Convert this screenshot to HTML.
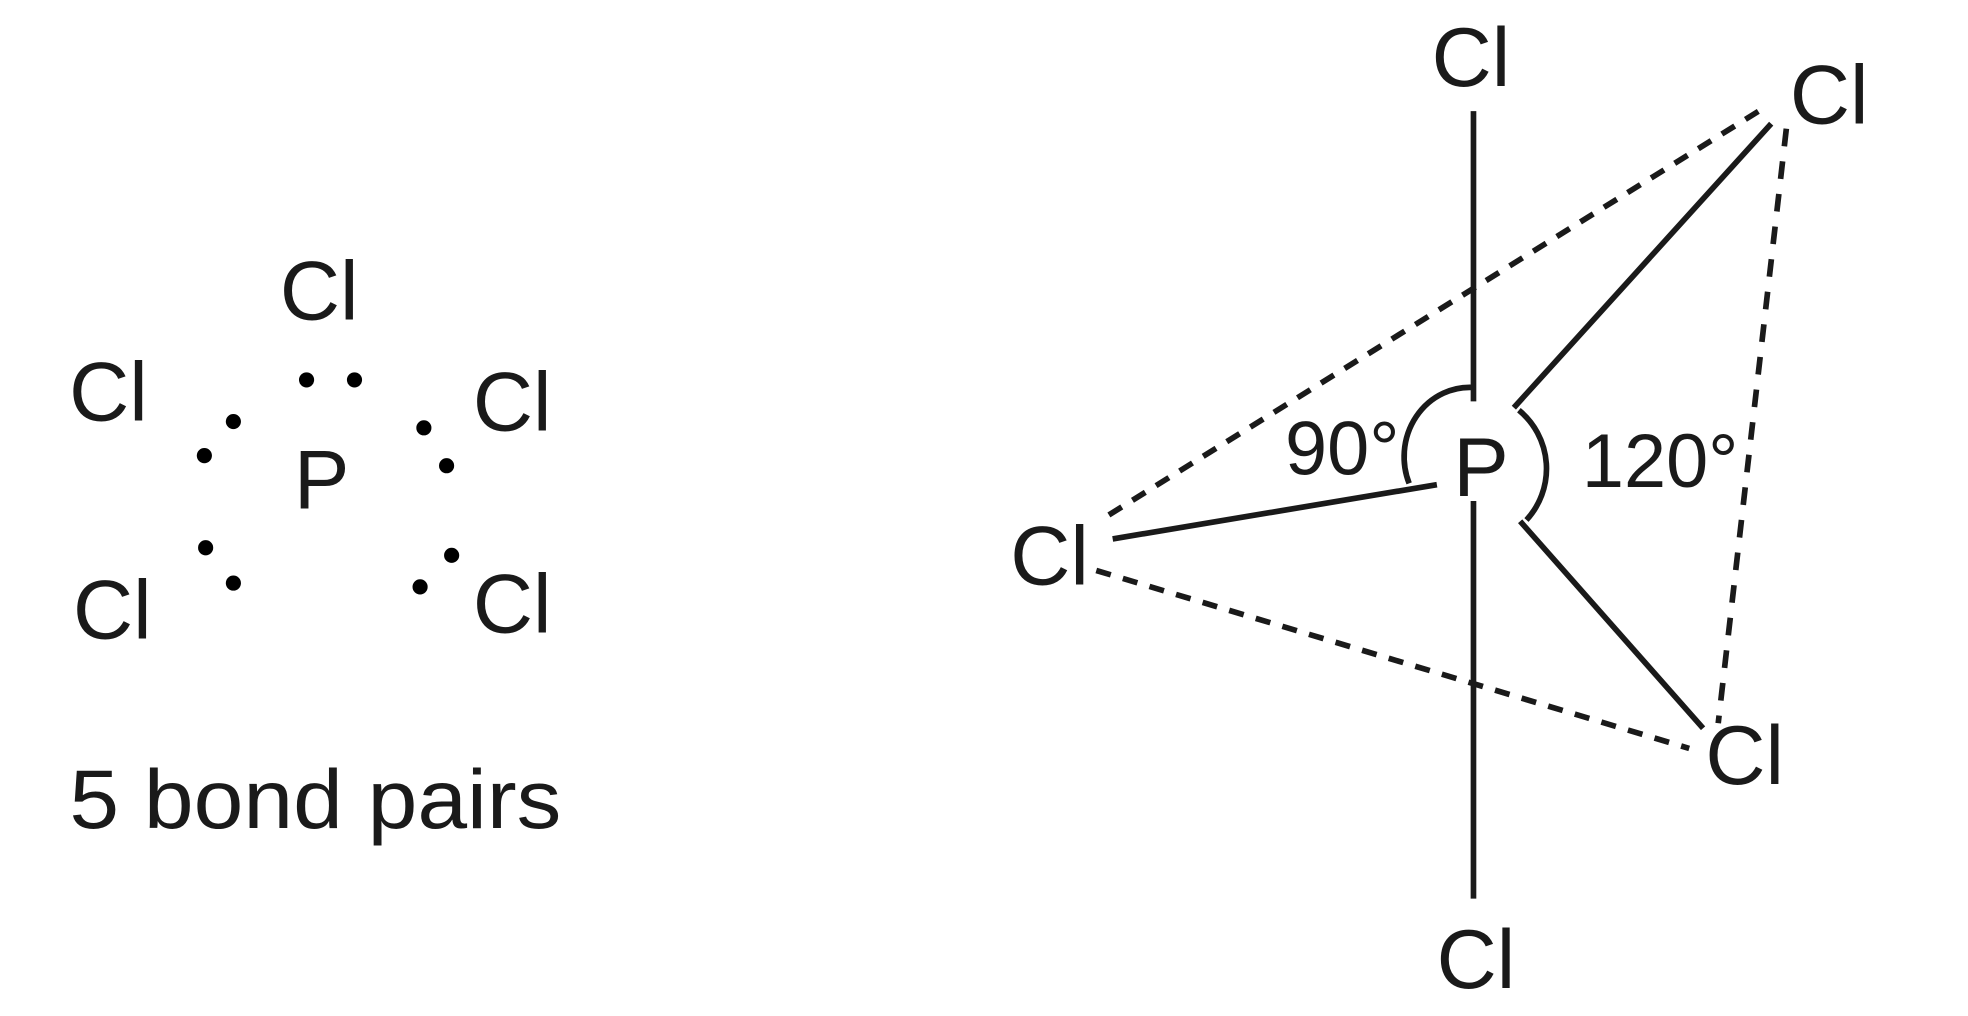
<!DOCTYPE html>
<html><head><style>html,body{margin:0;padding:0;background:#fff;}svg{display:block;}</style></head>
<body>
<svg width="1968" height="1016" viewBox="0 0 1560 805" preserveAspectRatio="none" xmlns="http://www.w3.org/2000/svg">
<g font-family="Liberation Sans, Arial, sans-serif" font-size="66" fill="#1a1a1a" text-anchor="middle">
<text x="253" y="253">Cl</text>
<text x="86" y="333">Cl</text>
<text x="406" y="341">Cl</text>
<text x="255" y="403">P</text>
<text x="89" y="506">Cl</text>
<text x="406" y="501">Cl</text>
<text x="55" y="656" text-anchor="start" textLength="390" lengthAdjust="spacingAndGlyphs">5 bond pairs</text>
</g>
<g transform="translate(-6,0)">
<g font-family="Liberation Sans, Arial, sans-serif" font-size="66" fill="#1a1a1a" text-anchor="middle">
<text x="1172" y="68">Cl</text>
<text x="1456" y="98">Cl</text>
<text x="838" y="463">Cl</text>
<text x="1389" y="621">Cl</text>
<text x="1176" y="783">Cl</text>
<text x="1180" y="393">P</text>
<text x="1070" y="376" font-size="60">90°</text>
<text x="1322" y="386" font-size="60">120°</text>
</g>
<g stroke="#1a1a1a" stroke-width="4.5" fill="none">
<line x1="1174" y1="88" x2="1174" y2="318"/>
<line x1="1174" y1="397" x2="1174" y2="712"/>
<line x1="1206" y1="323" x2="1410" y2="98"/>
<line x1="1145" y1="384" x2="888" y2="427"/>
<line x1="1211" y1="413" x2="1356" y2="577"/>
<line x1="885" y1="408" x2="1405" y2="85" stroke-dasharray="12,10"/>
<line x1="875" y1="452" x2="1345" y2="593" stroke-dasharray="12,10"/>
<line x1="1422" y1="102" x2="1368" y2="573" stroke-dasharray="14,12"/>
<path d="M1174 307 A 52 55 0 0 0 1123 383"/>
<path d="M1210 325 A 60 60 0 0 1 1216 412"/>
</g>
</g>
<g fill="#000">
<circle cx="243" cy="301" r="6"/><circle cx="281" cy="301" r="6"/>
<circle cx="185" cy="334" r="6"/><circle cx="162" cy="361" r="6"/>
<circle cx="336" cy="339" r="6"/><circle cx="354" cy="369" r="6"/>
<circle cx="163" cy="434" r="6"/><circle cx="185" cy="462" r="6"/>
<circle cx="333" cy="465" r="6"/><circle cx="358" cy="440" r="6"/>
</g>
</svg>
</body></html>
